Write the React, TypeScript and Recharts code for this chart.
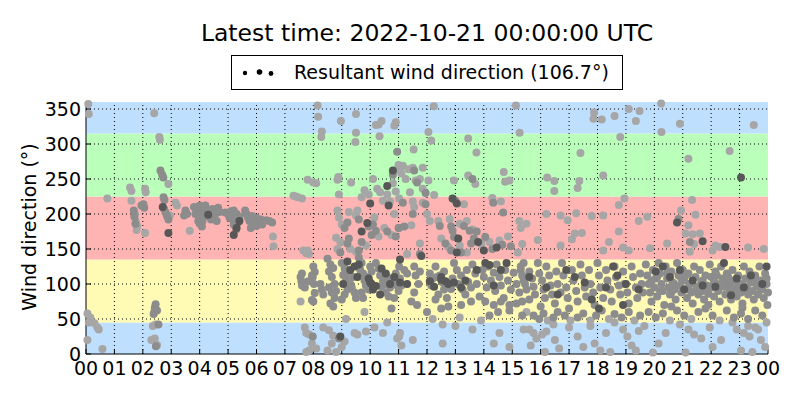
import { ScatterChart, Scatter, XAxis, YAxis, ReferenceArea, ReferenceLine } from 'recharts';

const FONT = '"DejaVu Sans", sans-serif';

const hourTicks = [0, 1, 2, 3, 4, 5, 6, 7, 8, 9, 10, 11, 12, 13, 14, 15, 16, 17, 18, 19, 20, 21, 22, 23, 24];
const dirTicks = [0, 50, 100, 150, 200, 250, 300, 350];

// direction sectors (degrees)
const sectorEdges = [0, 45, 135, 225, 315, 360];
const sectorColors = ['#bfdfff', '#fffab4', '#ffb4b4', '#baffba', '#bfdfff'];

const resultantDir = 106.7;
const latestTime = '2022-10-21 00:00:00 UTC';

// [hour of day, direction in degrees]
const lightPoints: [number, number][] = [
  [0.08, 357], [0.1, 343], [0.05, 58], [0.15, 52], [0.3, 44], [0.1, 45], [0.4, 38], [0.45, 35], [0.05, 20], [0.58, 7], [0.75, 222],
  [2.4, 344], [2.58, 310], [2.6, 306], [1.55, 238], [1.6, 233], [2.08, 236], [2.1, 231], [1.6, 219], [2.9, 243], [2.08, 173], [3.65, 176],
  [1.72, 200], [1.75, 190], [1.8, 183], [1.78, 177], [3.15, 216], [3.2, 212], [2.95, 198], [2.4, 60], [2.45, 42], [2.35, 40], [2.5, 13], [2.42, 22], [2.3, 20],
  [6.58, 168], [6.6, 154], [7.3, 226], [7.45, 224], [7.6, 222], [7.38, 225], [7.8, 249], [8.0, 245], [8.1, 244],
  [7.65, 148], [7.75, 144], [7.85, 143], [7.55, 75], [7.7, 38], [7.75, 30], [7.85, 28], [7.95, 15], [7.85, 5], [7.75, 3], [8.1, 8],
  [8.15, 355], [8.17, 339], [8.3, 318], [8.28, 310],
  [8.97, 333], [9.5, 343], [9.5, 316], [9.48, 303], [10.2, 327], [10.3, 328], [10.4, 333], [10.33, 311], [10.9, 331], [10.85, 326],
  [8.88, 253], [8.85, 249], [9.33, 245], [8.9, 228], [9.7, 224], [9.8, 234], [9.95, 228], [10.1, 250], [10.25, 236], [10.35, 231],
  [10.45, 219], [10.6, 228], [10.8, 244], [10.7, 218], [10.9, 232], [11.0, 270], [11.05, 262], [11.1, 258],
  [8.85, 205], [8.9, 195], [9.0, 185], [9.25, 203], [9.5, 198], [9.55, 205], [10.15, 195], [10.3, 168], [10.5, 180], [10.75, 170],
  [8.8, 166], [8.95, 160], [9.3, 150], [8.85, 150], [9.85, 155], [9.5, 146], [7.8, 148], [10.85, 200],
  [8.35, 38], [8.55, 34], [8.7, 26], [9.1, 18], [8.65, 15], [9.0, 10], [8.5, 5], [8.8, 3], [9.45, 30], [9.55, 28], [9.85, 32],
  [10.15, 38], [10.45, 30], [10.6, 45], [10.95, 22], [11.1, 12],
  [12.24, 354], [12.05, 317], [12.15, 305], [11.53, 292], [13.45, 308], [13.74, 288],
  [11.15, 269], [11.35, 264], [11.5, 266], [11.85, 266], [11.25, 250], [11.6, 248], [11.75, 250], [12.05, 248], [11.85, 236], [12.25, 227],
  [11.4, 231], [12.95, 248], [13.45, 255], [13.7, 243], [14.7, 260], [14.75, 246], [14.9, 248],
  [11.02, 222], [11.5, 218], [11.55, 210], [11.85, 216], [12.0, 200], [12.1, 190], [13.3, 214], [14.3, 223], [14.6, 218], [15.25, 190],
  [15.3, 180], [11.02, 180], [11.45, 184], [12.4, 190], [12.8, 193], [13.15, 186], [13.4, 190], [13.6, 178],
  [12.5, 165], [12.75, 153], [13.15, 155], [13.4, 145], [13.9, 157], [14.2, 160], [14.55, 162], [14.85, 168], [15.2, 145], [11.75, 158], [11.3, 143],
  [11.05, 30], [11.02, 25], [11.5, 20], [12.55, 42], [13.0, 40], [13.6, 35], [14.55, 30], [14.35, 15], [12.55, 15], [14.9, 10], [15.4, 35],
  [15.13, 355], [17.88, 345], [17.86, 336], [18.15, 335], [18.6, 340], [19.1, 350], [19.48, 347], [19.35, 333], [15.26, 316], [17.4, 287], [18.8, 310],
  [16.23, 252], [16.48, 247], [16.48, 233], [17.36, 247], [17.3, 237], [18.2, 255],
  [18.95, 222], [18.75, 213], [16.2, 200], [16.7, 198], [17.25, 201], [16.95, 191], [15.5, 186], [17.8, 197], [18.2, 198], [19.45, 190],
  [18.75, 175], [17.2, 172], [17.45, 173], [17.1, 164], [15.9, 163], [15.35, 157], [16.7, 155], [18.4, 160], [18.9, 152], [19.1, 148], [18.2, 148],
  [15.6, 35], [15.75, 30], [15.85, 22], [16.05, 28], [16.2, 32], [16.45, 42], [16.5, 20], [16.65, 8], [17.0, 38], [17.3, 25], [17.5, 10],
  [17.75, 40], [17.9, 15], [18.1, 5], [18.3, 30], [18.6, 45], [18.9, 35], [19.05, 25], [19.2, 12], [19.35, 5], [18.45, 3], [16.15, 3], [15.65, 12], [19.45, 33],
  [20.24, 358], [20.9, 329], [20.25, 317], [23.5, 327], [22.65, 290], [21.2, 279],
  [21.33, 220], [20.94, 205], [21.45, 199], [19.75, 196], [21.2, 184], [21.1, 172], [21.35, 171], [21.6, 172], [21.4, 157],
  [20.45, 158], [22.15, 155], [22.3, 153], [23.3, 152], [23.85, 150], [19.85, 151], [21.25, 146], [22.05, 148],
  [19.65, 40], [20.15, 15], [20.4, 30], [20.9, 42], [21.2, 35], [21.4, 28], [21.65, 22], [21.95, 38], [22.05, 10], [22.35, 20],
  [22.75, 45], [22.9, 35], [23.15, 30], [23.35, 25], [23.55, 38], [23.75, 20], [23.9, 10], [23.05, 5], [23.45, 3], [19.95, 2], [21.1, 2], [23.65, 35], [23.3, 40],
  [15.5, 60], [16.25, 48], [17.05, 48], [17.75, 48], [18.4, 50], [19.3, 48], [20.55, 48], [21.3, 50], [22.3, 48], [23.95, 45],
  [12.2, 50], [13.15, 52], [13.9, 48], [9.15, 50], [9.8, 60],
];

const midPoints: [number, number][] = [
  [2.62, 262], [2.68, 256], [2.72, 252], [2.73, 224], [2.76, 220], [1.95, 212], [2.02, 214], [2.05, 209], [1.68, 205], [1.7, 196], [1.74, 186],
  [2.75, 207], [2.8, 202], [2.85, 197], [2.9, 192], [2.45, 71], [2.42, 66], [2.5, 62], [2.38, 57], [2.55, 42], [2.46, 11],
  [3.5, 205], [3.55, 200], [3.45, 198], [3.8, 210], [3.85, 200], [3.95, 190], [4.0, 206],
  [4.0, 212], [4.1, 208], [4.2, 212], [4.05, 200], [4.15, 196], [4.1, 190], [4.0, 186], [4.08, 182], [4.3, 205],
  [4.45, 207], [4.55, 200], [4.65, 209], [4.7, 203], [4.5, 195], [4.4, 192], [4.6, 190], [4.35, 198],
  [4.9, 202], [5.0, 200], [5.1, 204], [5.2, 205], [5.3, 200], [5.4, 196], [5.25, 190], [5.35, 188], [5.2, 185], [5.28, 178], [5.15, 193], [5.05, 195],
  [5.6, 205], [5.65, 200], [5.7, 195], [5.75, 190], [5.8, 180], [5.85, 197], [5.95, 195], [6.05, 193], [6.15, 192], [6.25, 190],
  [6.35, 191], [6.45, 190], [6.55, 188], [5.9, 186], [6.0, 183], [6.1, 188], [6.2, 185],
  [7.6, 115], [7.55, 110], [7.58, 104], [7.6, 98], [7.7, 95], [7.82, 104], [7.95, 112], [8.05, 87], [7.95, 77], [7.98, 25],
  [9.1, 180], [9.2, 188], [9.6, 192], [10.1, 185], [10.05, 170], [10.6, 175], [10.9, 168], [11.0, 180], [10.2, 176], [9.2, 158], [9.25, 165],
  [8.95, 145], [9.7, 160], [9.6, 148], [9.95, 182], [10.95, 289], [10.8, 256], [8.9, 22],
  [8.0, 125], [8.05, 117], [7.98, 110], [8.02, 100], [8.0, 75], [8.25, 100], [8.3, 92], [8.35, 85],
  [8.5, 136], [8.6, 128], [8.55, 118], [8.65, 110], [8.7, 123], [8.75, 100], [8.55, 95], [8.65, 88], [8.75, 80], [8.8, 90], [8.6, 72], [8.7, 68],
  [9.0, 130], [9.1, 122], [9.05, 113], [9.15, 108], [9.25, 118], [9.3, 100], [9.35, 95], [9.2, 92], [9.1, 85], [9.0, 78], [9.4, 110], [9.45, 88], [9.5, 80],
  [9.6, 138], [9.7, 130], [9.65, 120], [9.75, 115], [9.8, 105], [9.9, 110], [9.85, 98], [9.95, 92], [9.7, 88], [9.75, 80], [10.0, 125], [10.05, 118],
  [10.2, 130], [10.3, 122], [10.35, 112], [10.45, 104], [10.4, 96], [10.5, 100], [10.6, 110], [10.7, 95], [10.55, 88], [10.65, 82],
  [10.8, 105], [10.9, 115], [10.95, 98], [10.85, 80], [11.0, 90], [10.75, 65],
  [11.55, 262], [11.65, 245], [11.95, 230], [13.6, 250], [11.15, 216], [11.5, 200], [11.95, 214], [13.0, 219], [14.33, 216], [14.68, 202],
  [11.2, 182], [12.45, 183], [12.85, 182], [12.9, 176], [13.3, 183], [13.5, 176], [13.75, 175],
  [12.65, 158], [12.95, 167], [13.2, 145], [12.85, 148], [13.55, 158], [13.65, 165], [14.05, 167], [14.3, 150], [14.65, 156], [14.95, 154], [11.75, 143],
  [11.02, 125], [11.2, 120], [11.05, 108], [11.1, 98], [11.3, 115], [11.55, 125], [11.6, 112], [11.7, 100], [11.75, 118], [11.55, 88], [11.45, 75], [11.65, 70],
  [12.1, 115], [12.2, 108], [12.15, 98], [12.3, 125], [12.35, 110], [12.45, 112], [12.55, 102], [12.6, 118], [12.6, 92], [12.4, 85], [12.3, 78],
  [12.7, 80], [12.85, 93], [12.9, 108], [12.95, 130], [13.05, 120], [13.1, 100], [13.2, 112], [13.25, 92], [13.35, 85], [13.4, 120], [13.45, 103],
  [13.55, 95], [13.6, 128], [13.7, 115], [13.75, 100], [13.85, 82], [13.95, 120], [14.0, 110], [14.1, 95], [14.15, 125], [14.25, 105],
  [14.35, 116], [14.4, 90], [14.45, 128], [14.55, 110], [14.6, 98], [14.7, 80], [14.75, 120], [14.85, 105], [14.95, 92], [15.05, 116],
  [15.15, 100], [15.25, 88], [15.3, 120], [15.4, 105], [15.35, 75], [15.15, 72], [14.9, 70], [14.6, 75], [14.35, 70], [14.05, 75],
  [13.55, 75], [13.2, 70], [12.75, 68], [12.5, 65], [12.0, 60], [14.2, 55], [14.5, 60], [14.9, 62], [15.35, 55],
  [15.3, 125], [15.4, 130], [15.35, 112], [15.45, 100], [15.5, 92], [15.6, 118], [15.7, 108], [15.75, 96], [15.8, 85], [15.6, 78],
  [15.9, 130], [15.95, 115], [16.05, 105], [16.1, 92], [16.15, 80], [16.0, 68], [16.2, 125], [16.3, 112], [16.35, 98], [16.4, 85],
  [16.5, 72], [16.55, 118], [16.6, 100], [16.7, 88], [16.75, 130], [16.8, 112], [16.9, 95], [16.95, 80], [17.0, 65], [17.1, 120],
  [17.15, 105], [17.25, 90], [17.3, 75], [17.4, 128], [17.45, 112], [17.55, 95], [17.6, 82], [17.7, 120], [17.75, 100], [17.85, 88],
  [17.9, 70], [18.0, 130], [18.05, 112], [18.1, 95], [18.2, 80], [18.3, 120], [18.35, 105], [18.45, 92], [18.5, 75], [18.6, 125],
  [18.65, 110], [18.75, 98], [18.8, 85], [18.9, 118], [18.95, 100], [19.05, 88], [19.1, 72], [19.2, 125], [19.25, 110], [19.35, 95],
  [19.4, 80], [19.5, 115], [19.55, 100], [19.6, 88],
  [15.75, 55], [15.95, 50], [16.1, 58], [16.45, 52], [16.6, 60], [16.85, 55], [17.3, 52], [17.5, 58], [17.95, 55], [18.15, 62],
  [18.6, 57], [18.85, 52], [19.1, 60], [19.5, 55], [20.85, 193], [21.25, 160],
  [19.7, 128], [19.75, 112], [19.8, 100], [19.85, 88], [19.9, 75], [19.95, 120], [20.0, 95], [20.05, 108], [20.1, 82], [20.15, 130],
  [20.2, 115], [20.25, 100], [20.3, 90], [20.35, 70], [20.4, 125], [20.45, 108], [20.5, 95], [20.55, 85], [20.6, 118], [20.65, 102],
  [20.7, 92], [20.75, 78], [20.8, 130], [20.85, 112], [20.9, 98], [20.95, 88], [21.0, 120], [21.05, 105], [21.1, 92], [21.15, 80],
  [21.2, 115], [21.25, 100], [21.3, 88], [21.35, 72], [21.4, 125], [21.45, 110], [21.5, 96], [21.55, 85], [21.6, 120], [21.65, 102],
  [21.7, 90], [21.75, 78], [21.8, 112], [21.85, 98], [21.9, 86], [21.95, 128], [22.0, 110], [22.05, 95], [22.1, 82], [22.15, 118],
  [22.2, 100], [22.25, 90], [22.3, 75], [22.35, 125], [22.4, 108], [22.45, 96], [22.5, 85], [22.55, 115], [22.6, 100], [22.65, 90],
  [22.7, 78], [22.75, 120], [22.8, 105], [22.85, 92], [22.9, 82], [22.95, 112], [23.0, 98], [23.05, 88], [23.1, 72], [23.15, 125],
  [23.2, 108], [23.25, 95], [23.3, 85], [23.35, 118], [23.4, 102], [23.45, 90], [23.5, 78], [23.55, 112], [23.6, 98], [23.65, 85],
  [23.7, 125], [23.75, 105], [23.8, 92], [23.85, 80], [23.9, 115], [23.95, 100], [24.0, 88], [23.98, 70],
  [19.8, 60], [20.05, 52], [20.3, 58], [20.8, 62], [21.05, 55], [21.55, 60], [21.8, 65], [22.05, 55], [22.55, 62], [22.8, 52],
  [23.05, 58], [23.3, 50], [23.55, 62], [23.8, 55], [20.6, 68], [21.9, 70], [23.1, 66],
  [19.9, 105], [20.2, 90], [20.45, 115], [20.7, 100], [20.95, 108], [21.2, 95], [21.45, 90], [21.7, 105], [21.95, 95], [22.2, 112],
  [22.45, 102], [22.7, 95], [22.95, 100], [23.2, 92], [23.45, 108], [23.7, 95], [23.95, 108], [20.1, 110], [20.6, 88], [21.1, 112],
  [21.6, 93], [22.1, 104], [22.6, 110], [23.1, 100], [23.6, 104],
];

const darkPoints: [number, number][] = [
  [2.9, 173], [2.7, 210], [5.2, 170], [5.3, 180], [4.3, 199], [5.4, 190],
  [10.0, 215], [10.65, 212], [9.9, 187], [9.7, 175], [10.8, 262], [10.6, 240], [8.95, 25],
  [9.2, 132], [9.3, 120], [9.55, 110], [9.45, 125], [9.95, 108], [10.0, 102], [10.05, 100], [10.1, 92], [10.2, 97], [10.35, 85],
  [10.55, 115], [10.7, 100], [10.85, 110], [11.05, 102], [9.05, 100], [10.4, 122], [9.6, 128],
  [12.9, 222], [13.05, 215], [13.1, 165], [13.8, 160], [14.0, 148], [14.45, 152], [13.05, 145], [14.8, 130], [11.8, 140],
  [12.1, 104], [12.25, 96], [12.5, 106], [12.65, 104], [12.75, 100], [12.95, 102], [13.2, 95], [13.35, 105], [14.05, 130],
  [14.2, 127], [14.35, 98], [13.75, 120], [12.5, 110], [14.6, 120], [11.3, 100], [11.05, 135],
  [16.2, 95], [16.6, 85], [17.2, 110], [17.8, 78], [18.3, 95], [18.55, 125], [18.7, 112], [18.9, 70], [19.0, 100], [19.45, 92],
  [15.6, 110], [16.9, 120], [18.05, 65], [17.55, 102],
  [23.05, 252], [20.8, 188], [21.7, 161], [22.5, 153],
  [20.05, 118], [20.55, 110], [20.9, 120], [21.35, 105], [21.7, 98], [22.15, 96], [22.45, 130], [22.9, 108], [23.15, 95],
  [23.4, 112], [23.8, 100], [23.95, 125], [21.05, 92], [22.7, 84], [20.3, 125],
];

const toRows = (pts: [number, number][]) => pts.map(([h, d]) => ({ h, d }));

const pad2 = (h: number) => String(h % 24).padStart(2, '0');

const dot = (fill: string) => (props: any) => (
  <circle cx={props.cx} cy={props.cy} r={4} fill={fill} />
);

const tickStyle = { fill: '#000', fontSize: 19, fontFamily: FONT };

export default function App() {
  return (
    <div style={{ position: 'absolute', left: 0, top: 0, width: 800, height: 400, background: '#fff', fontFamily: FONT }}>
      <div style={{ position: 'absolute', left: 86, top: 19, width: 682, textAlign: 'center', fontSize: 23.5, lineHeight: '28px', color: '#000' }}>
        Latest time: {latestTime}
      </div>
      <div style={{ position: 'absolute', left: 231, top: 55, width: 390, height: 33, border: '1px solid #000', background: '#fff', zIndex: 2 }}>
        <svg width={50} height={33} style={{ position: 'absolute', left: 0, top: 0 }}>
          <circle cx={13} cy={17} r={2.2} fill="#000" />
          <circle cx={27.5} cy={16} r={2.8} fill="#000" />
          <circle cx={39} cy={17.5} r={2.4} fill="#000" />
        </svg>
        <div style={{ position: 'absolute', left: 62, top: 4, fontSize: 19, lineHeight: '24px', whiteSpace: 'nowrap', color: '#000' }}>
          Resultant wind direction ({resultantDir.toFixed(1)}°)
        </div>
      </div>
      <div style={{ position: 'absolute', left: 29, top: 227, transform: 'translate(-50%, -50%) rotate(-90deg)', whiteSpace: 'nowrap', fontSize: 19, lineHeight: 1, color: '#000' }}>
        Wind direction (°)
      </div>
      <ScatterChart width={800} height={400} margin={{ top: 102, right: 32, bottom: 16, left: 36 }}>
        <XAxis
          type="number"
          dataKey="h"
          domain={[0, 24]}
          ticks={hourTicks}
          interval={0}
          tickFormatter={pad2}
          height={30}
          tickSize={-5}
          tickMargin={13}
          tick={tickStyle}
          axisLine={{ stroke: '#000' }}
          tickLine={{ stroke: '#000' }}
        />
        <XAxis
          xAxisId="top"
          orientation="top"
          type="number"
          domain={[0, 24]}
          ticks={hourTicks}
          interval={0}
          height={0}
          tickSize={-5}
          tick={false}
          axisLine={{ stroke: '#000' }}
          tickLine={{ stroke: '#000' }}
        />
        <YAxis
          type="number"
          dataKey="d"
          domain={[0, 360]}
          ticks={dirTicks}
          interval={0}
          width={50}
          tickSize={-5}
          tickMargin={10}
          tick={tickStyle}
          axisLine={{ stroke: '#000' }}
          tickLine={{ stroke: '#000' }}
        />
        <YAxis
          yAxisId="right"
          orientation="right"
          type="number"
          domain={[0, 360]}
          ticks={dirTicks}
          interval={0}
          width={0}
          tickSize={-5}
          tick={false}
          axisLine={{ stroke: '#000' }}
          tickLine={{ stroke: '#000' }}
        />
        {sectorColors.map((c, i) => (
          <ReferenceArea key={'s' + i} y1={sectorEdges[i]} y2={sectorEdges[i + 1]} x1={0} x2={24} fill={c} fillOpacity={1} stroke="none" />
        ))}
        {hourTicks.slice(1, -1).map((h) => (
          <ReferenceLine key={'gx' + h} x={h} stroke="#000" strokeDasharray="1 3" />
        ))}
        {dirTicks.slice(1).map((d) => (
          <ReferenceLine key={'gy' + d} y={d} stroke="#000" strokeDasharray="1 3" />
        ))}
        <Scatter data={toRows(lightPoints)} shape={dot('#a6a6a6')} isAnimationActive={false} />
        <Scatter data={toRows(midPoints)} shape={dot('#8c8c8c')} isAnimationActive={false} />
        <Scatter data={toRows(darkPoints)} shape={dot('#575757')} isAnimationActive={false} />
      </ScatterChart>
    </div>
  );
}
